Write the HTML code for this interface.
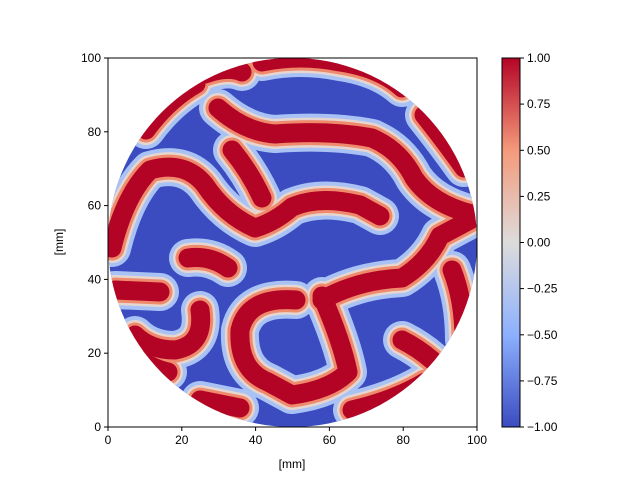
<!DOCTYPE html><html><head><style>body{margin:0;background:#fff}</style></head><body>
<svg width="640" height="480" xmlns="http://www.w3.org/2000/svg" font-family="Liberation Sans, sans-serif" font-size="12">
<defs>
<clipPath id="c"><circle cx="292.5" cy="242.5" r="184.5"/></clipPath>
<linearGradient id="cb" x1="0" y1="1" x2="0" y2="0">
<stop offset="0" stop-color="#3b4cc0"/><stop offset="0.25" stop-color="#8db0fe"/><stop offset="0.5" stop-color="#dddcdc"/><stop offset="0.75" stop-color="#f49a7b"/><stop offset="1" stop-color="#b40426"/></linearGradient>
<g id="r" fill="none" stroke-linecap="round" stroke-linejoin="round">
<path d="M146,130 Q168,100 196,84"/>
<path d="M205,74 Q228,66 242,72"/>
<path d="M262,62 Q300,54 340,62 Q380,68 402,88"/>
<path d="M218,108 Q245,132 275,134 Q330,130 372,138 Q400,150 414,178 Q432,204 472,214"/>
<path d="M424,115 Q444,140 464,168"/>
<path d="M112,248 Q125,195 150,170 Q185,160 205,185 Q225,215 255,228 Q275,222 292,207 Q320,195 360,205 L380,216"/>
<path d="M232,150 Q250,172 262,198"/>
<path d="M322,300 Q358,280 402,278 Q428,262 440,236 L470,220"/>
<path d="M452,270 Q464,300 464,340"/>
<path d="M322,296 Q342,342 348,372 Q330,390 292,395 L268,382 Q238,370 240,330 Q248,296 296,300"/>
<path d="M402,340 Q418,348 432,360"/>
<path d="M352,410 Q395,400 425,382"/>
<path d="M188,258 Q210,255 228,268"/>
<path d="M115,290 L160,292"/>
<path d="M200,310 Q205,345 175,350 Q150,350 135,335"/>
<path d="M200,400 L240,408"/>
<path d="M128,352 Q150,368 168,372"/>
</g>
</defs>
<g clip-path="url(#c)">
<rect x="100" y="50" width="390" height="390" fill="#3b4cc0"/>
<use href="#r" stroke="#a9c2f5" stroke-width="38"/>
<use href="#r" stroke="#e6d6cf" stroke-width="30"/>
<use href="#r" stroke="#ef8a6c" stroke-width="25"/>
<use href="#r" stroke="#b40426" stroke-width="19"/>
</g>
<rect x="108" y="58" width="369" height="369" fill="none" stroke="#000" stroke-width="1"/>
<g stroke="#000">
<line x1="108" y1="427" x2="108" y2="431"/><line x1="181.8" y1="427" x2="181.8" y2="431"/><line x1="255.6" y1="427" x2="255.6" y2="431"/><line x1="329.4" y1="427" x2="329.4" y2="431"/><line x1="403.2" y1="427" x2="403.2" y2="431"/><line x1="477" y1="427" x2="477" y2="431"/>
<line x1="104" y1="427" x2="108" y2="427"/><line x1="104" y1="353.2" x2="108" y2="353.2"/><line x1="104" y1="279.4" x2="108" y2="279.4"/><line x1="104" y1="205.6" x2="108" y2="205.6"/><line x1="104" y1="131.8" x2="108" y2="131.8"/><line x1="104" y1="58" x2="108" y2="58"/>
</g>
<g text-anchor="middle">
<text x="108" y="444">0</text><text x="181.8" y="444">20</text><text x="255.6" y="444">40</text><text x="329.4" y="444">60</text><text x="403.2" y="444">80</text><text x="477" y="444">100</text>
<text x="292" y="468">[mm]</text>
</g>
<g text-anchor="end">
<text x="101" y="431">0</text><text x="101" y="357">20</text><text x="101" y="283.5">40</text><text x="101" y="209.5">60</text><text x="101" y="136">80</text><text x="101" y="62">100</text>
</g>
<text transform="translate(63,242) rotate(-90)" text-anchor="middle">[mm]</text>
<rect x="502" y="58" width="18" height="369" fill="url(#cb)" stroke="#000" stroke-width="1"/>
<g stroke="#000">
<line x1="520" y1="58" x2="524" y2="58"/><line x1="520" y1="104.1" x2="524" y2="104.1"/><line x1="520" y1="150.3" x2="524" y2="150.3"/><line x1="520" y1="196.4" x2="524" y2="196.4"/><line x1="520" y1="242.5" x2="524" y2="242.5"/><line x1="520" y1="288.6" x2="524" y2="288.6"/><line x1="520" y1="334.8" x2="524" y2="334.8"/><line x1="520" y1="380.9" x2="524" y2="380.9"/><line x1="520" y1="427" x2="524" y2="427"/>
</g>
<g>
<text x="527" y="62">1.00</text><text x="527" y="108">0.75</text><text x="527" y="154.5">0.50</text><text x="527" y="200.5">0.25</text><text x="527" y="246.5">0.00</text><text x="527" y="292.5">−0.25</text><text x="527" y="339">−0.50</text><text x="527" y="385">−0.75</text><text x="527" y="431">−1.00</text>
</g>
</svg>
</body></html>
